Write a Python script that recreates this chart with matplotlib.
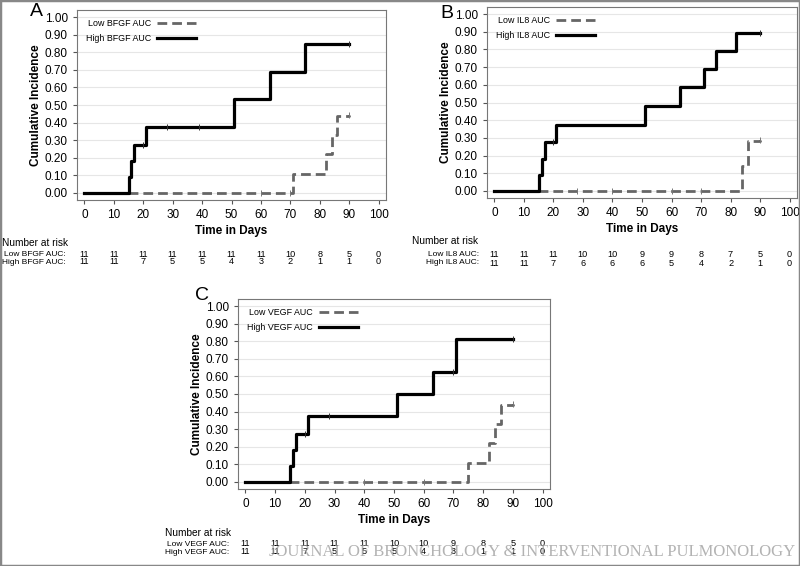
import matplotlib.pyplot as plt
from matplotlib.transforms import blended_transform_factory
from matplotlib.patches import Rectangle

# panel A - BFGF
a_high_t = [0, 15, 16, 17, 21, 51, 63, 75, 90]
a_high_y = [0, 0.09, 0.18, 0.27, 0.375, 0.535, 0.69, 0.845, 0.845]
a_low_t = [0, 71, 82, 84, 86, 90]
a_low_y = [0, 0.11, 0.22, 0.33, 0.44, 0.445]
a_high_cens_t = [20, 28, 39, 90]
a_high_cens_y = [0.27, 0.375, 0.375, 0.845]
a_low_cens_t = [60, 70, 90]
a_low_cens_y = [0, 0, 0.445]
a_risk_low = [11, 11, 11, 11, 11, 11, 11, 10, 8, 5, 0]
a_risk_high = [11, 11, 7, 5, 5, 4, 3, 2, 1, 1, 0]

# panel B - IL8
b_high_t = [0, 15, 16, 17, 21, 51, 63, 71, 75, 82, 90]
b_high_y = [0, 0.09, 0.18, 0.275, 0.375, 0.48, 0.585, 0.69, 0.79, 0.895, 0.895]
b_low_t = [0, 84, 86, 90]
b_low_y = [0, 0.14, 0.285, 0.29]
b_high_cens_t = [20, 90]
b_high_cens_y = [0.275, 0.895]
b_low_cens_t = [28, 40, 60, 70, 90]
b_low_cens_y = [0, 0, 0, 0, 0.29]
b_risk_low = [11, 11, 11, 10, 10, 9, 9, 8, 7, 5, 0]
b_risk_high = [11, 11, 7, 6, 6, 6, 5, 4, 2, 1, 0]

# panel C - VEGF
c_high_t = [0, 15, 16, 17, 21, 51, 63, 71, 90]
c_high_y = [0, 0.09, 0.18, 0.27, 0.375, 0.5, 0.625, 0.81, 0.81]
c_low_t = [0, 75, 82, 84, 86, 90]
c_low_y = [0, 0.11, 0.22, 0.33, 0.44, 0.445]
c_high_cens_t = [20, 28, 70, 90]
c_high_cens_y = [0.27, 0.375, 0.625, 0.81]
c_low_cens_t = [40, 60, 90]
c_low_cens_y = [0, 0, 0.445]
c_risk_low = [11, 11, 11, 11, 11, 10, 10, 9, 8, 5, 0]
c_risk_high = [11, 11, 7, 5, 5, 5, 4, 3, 1, 1, 0]

risk_times = [0, 10, 20, 30, 40, 50, 60, 70, 80, 90, 100]
yticks = [0, 0.1, 0.2, 0.3, 0.4, 0.5, 0.6, 0.7, 0.8, 0.9, 1.0]

W, H = 800, 566
fig = plt.figure(figsize=(8, 5.66), dpi=100)
plt.rcParams['font.family'] = ['Liberation Sans', 'DejaVu Sans']


def fy(py):
    return 1 - py / H


def panel(box, letter, letter_xy, marker, ht, hy, lt, ly, hct, hcy, lct, lcy,
          rlow, rhigh, label_px, rows_px):
    l, t, r, b = box
    ax = fig.add_axes([l / W, 1 - b / H, (r - l) / W, (b - t) / H])
    ax.step(lt, ly, where='post', color='#666666', lw=2, ls=(0, (3.5, 1.8)),
            label=f'Low {marker} AUC')
    ax.step(ht, hy, where='post', color='black', lw=2.3,
            label=f'High {marker} AUC')
    ax.plot(hct, hcy, ls='none', marker='|', ms=4, mew=0.7, color='#333333')
    ax.plot(lct, lcy, ls='none', marker='|', ms=4, mew=0.7, color='#777777')
    ax.set_xlim(-2.5, 102.5)
    ax.set_ylim(-0.04, 1.04)
    ax.set_xticks(risk_times)
    ax.set_yticks(yticks)
    ax.set_yticklabels([f'{v:.2f}' for v in yticks])
    ax.tick_params(labelsize=8.5, length=3, color='#555555')
    ax.grid(axis='y', color='#e6e6e6', lw=0.8)
    ax.set_axisbelow(True)
    for s in ax.spines.values():
        s.set_color('#777777')
        s.set_linewidth(0.8)
    ax.set_ylabel('Cumulative Incidence', fontsize=8.5, fontweight='bold',
                  labelpad=2)
    ax.set_xlabel('Time in Days', fontsize=8.5, fontweight='bold', labelpad=3)
    ax.legend(loc='upper left', markerfirst=False, fontsize=6.4,
              frameon=False, handlelength=4.4, handletextpad=0.7,
              labelspacing=0.65, borderaxespad=0.6)
    fig.text(letter_xy[0] / W, fy(letter_xy[1]), letter, fontsize=14,
             ha='left', va='center')
    # number at risk table
    nx, lab_right = label_px
    ny, lowy, highy = rows_px
    fig.text(nx / W, fy(ny), 'Number at risk', fontsize=7.3, va='center')
    fig.text(lab_right / W, fy(lowy), f'Low {marker} AUC:', fontsize=6.0,
             va='center', ha='right')
    fig.text(lab_right / W, fy(highy), f'High {marker} AUC:', fontsize=6.0,
             va='center', ha='right')
    tr = blended_transform_factory(ax.transData, fig.transFigure)
    for x, lo, hi in zip(risk_times, rlow, rhigh):
        ax.text(x, fy(lowy), str(lo), transform=tr, fontsize=6.6,
                ha='center', va='center', clip_on=False)
        ax.text(x, fy(highy), str(hi), transform=tr, fontsize=6.6,
                ha='center', va='center', clip_on=False)
    return ax


panel((77, 10, 386, 200), 'A', (30, 12), 'BFGF', a_high_t, a_high_y, a_low_t, a_low_y,
      a_high_cens_t, a_high_cens_y, a_low_cens_t, a_low_cens_y,
      a_risk_low, a_risk_high, (2, 66), (243, 254, 262))
panel((487, 7, 797, 198), 'B', (440, 13), 'IL8', b_high_t, b_high_y, b_low_t, b_low_y,
      b_high_cens_t, b_high_cens_y, b_low_cens_t, b_low_cens_y,
      b_risk_low, b_risk_high, (412, 479), (241, 254, 263))
panel((238, 299, 550, 489), 'C', (195, 295), 'VEGF', c_high_t, c_high_y, c_low_t, c_low_y,
      c_high_cens_t, c_high_cens_y, c_low_cens_t, c_low_cens_y,
      c_risk_low, c_risk_high, (165, 229), (533, 544, 552))

fig.text(795 / W, fy(552), 'JOURNAL OF BRONCHOLOGY & INTERVENTIONAL PULMONOLOGY',
         family='Liberation Serif', fontsize=12, color='#a0a0a0', alpha=0.8,
         ha='right', va='center')

fig.patches.append(Rectangle((0, 0), 1, 1, transform=fig.transFigure, fill=False,
                             edgecolor='#888888', lw=2.5))

fig.savefig('out.png', dpi=100)
